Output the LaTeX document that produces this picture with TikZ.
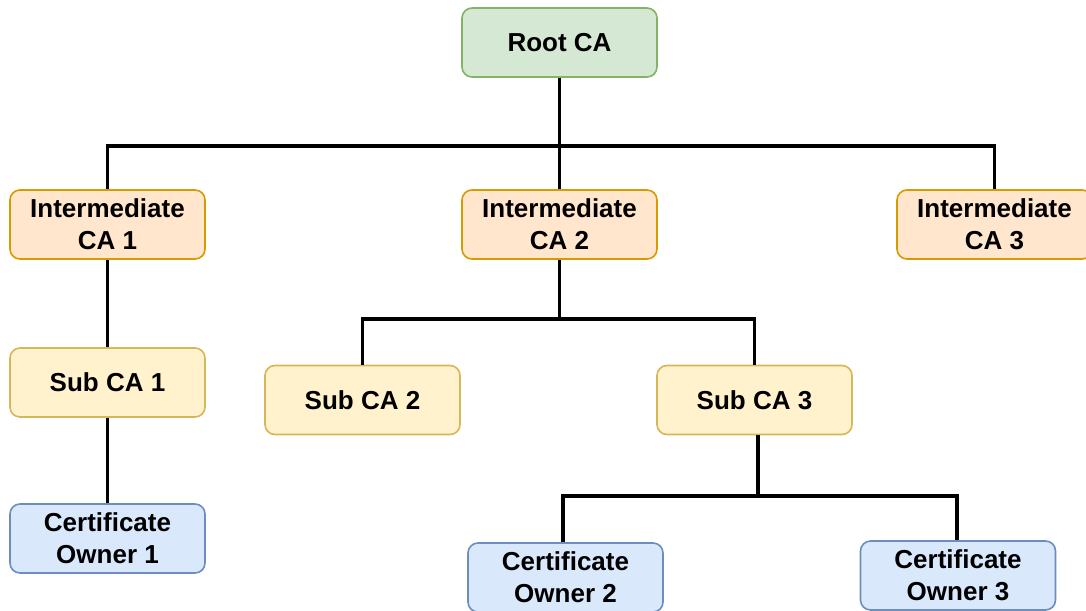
\documentclass[tikz,border=0pt]{standalone}
\usepackage{fontspec}
\setmainfont{Liberation Sans}
\begin{document}
\definecolor{rootfill}{HTML}{D5E8D4}\definecolor{rootline}{HTML}{82B366}
\definecolor{intfill}{HTML}{FFE6CC}\definecolor{intline}{HTML}{D79B00}
\definecolor{subfill}{HTML}{FFF2CC}\definecolor{subline}{HTML}{D6B656}
\definecolor{ownfill}{HTML}{DAE8FC}\definecolor{ownline}{HTML}{6C8EBF}
\begin{tikzpicture}[x=1pt,y=-1pt,
  box/.style={rounded corners=10pt, line width=1.6pt, minimum width=195pt,
    minimum height=69pt, inner sep=0pt, align=center,
    font=\bfseries\fontsize{26}{32}\selectfont},
  rootbox/.style={box, fill=rootfill, draw=rootline},
  intbox/.style={box, fill=intfill, draw=intline},
  subbox/.style={box, fill=subfill, draw=subline},
  ownbox/.style={box, fill=ownfill, draw=ownline},
  link/.style={line width=3.4pt, draw=black}]
\useasboundingbox (0,0) rectangle (1086,610);
\clip (0,0) rectangle (1086,610);

% certificate hierarchy
\node[rootbox] (root) at (559.5,42.5) {Root CA};
\node[intbox] (int1) at (107.5,224.5) {Intermediate\\CA 1};
\node[intbox] (int2) at (559.5,224.5) {Intermediate\\CA 2};
\node[intbox] (int3) at (994.5,224.5) {Intermediate\\CA 3};
\node[subbox] (sub1) at (107.5,382.5) {Sub CA 1};
\node[subbox] (sub2) at (362.5,400) {Sub CA 2};
\node[subbox] (sub3) at (754.5,400) {Sub CA 3};
\node[ownbox] (own1) at (107.5,538.5) {Certificate\\Owner 1};
\node[ownbox] (own2) at (565.5,577.5) {Certificate\\Owner 2};
\node[ownbox] (own3) at (958,575.5) {Certificate\\Owner 3};

% root to intermediates
\coordinate (busA) at (559.5,146);
\draw[link] (root.south) -- (busA);
\draw[link] (busA) -| (int1.north);
\draw[link] (busA) -- (int2.north);
\draw[link] (busA) -| (int3.north);

% intermediate 1 chain
\draw[link] (int1.south) -- (sub1.north);
\draw[link] (sub1.south) -- (own1.north);

% intermediate 2 to sub CAs
\coordinate (busB) at (559.5,319);
\draw[link] (int2.south) -- (busB);
\draw[link] (busB) -| (sub2.north);
\draw[link] (busB) -| (sub3.north);

% sub CA 3 to owners
\coordinate (busC) at (758,496);
\draw[link] ([xshift=3.5pt]sub3.south) -- (busC);
\draw[link] (busC) -| ([xshift=-2.5pt]own2.north);
\draw[link] (busC) -| ([xshift=-1pt]own3.north);
\end{tikzpicture}
\end{document}
